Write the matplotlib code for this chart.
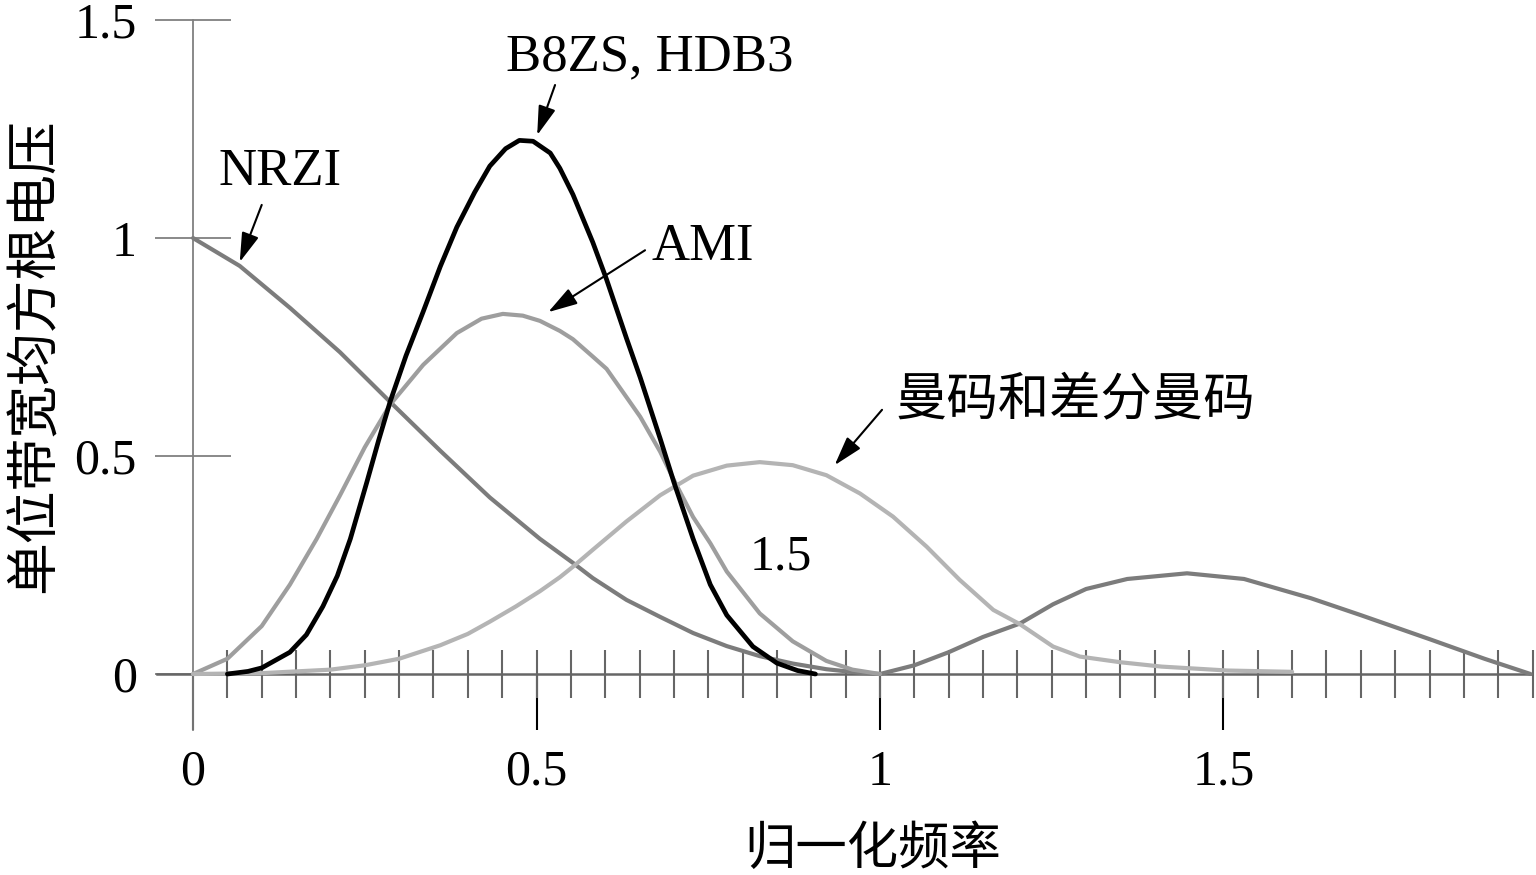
import matplotlib
matplotlib.use("Agg")
import matplotlib.pyplot as plt
from matplotlib.ticker import FixedLocator, NullFormatter

# ---- data ----
nrzi_x = [0, 0.068, 0.141, 0.214, 0.287, 0.36, 0.432, 0.505, 0.553, 0.582, 0.631, 0.68,
          0.728, 0.777, 0.825, 0.873, 0.922, 0.97, 1.0, 1.05, 1.1, 1.15, 1.204, 1.252,
          1.3, 1.36, 1.447, 1.53, 1.627, 1.7, 1.8, 1.88, 1.947]
nrzi_y = [1.0, 0.936, 0.84, 0.738, 0.624, 0.512, 0.405, 0.31, 0.255, 0.22, 0.17, 0.131,
          0.094, 0.064, 0.041, 0.024, 0.011, 0.003, 0.0, 0.02, 0.05, 0.085, 0.116, 0.16,
          0.195, 0.218, 0.231, 0.218, 0.174, 0.135, 0.08, 0.035, 0.0]

ami_x = [0, 0.05, 0.068, 0.1, 0.141, 0.18, 0.214, 0.25, 0.287, 0.335, 0.384, 0.42, 0.451,
         0.48, 0.505, 0.534, 0.553, 0.582, 0.602, 0.631, 0.651, 0.68, 0.70, 0.728, 0.753,
         0.777, 0.825, 0.873, 0.922, 0.96, 1.0]
ami_y = [0, 0.035, 0.062, 0.11, 0.205, 0.31, 0.41, 0.52, 0.618, 0.709, 0.782, 0.815, 0.826,
         0.822, 0.81, 0.787, 0.768, 0.728, 0.70, 0.635, 0.59, 0.51, 0.445, 0.36, 0.30,
         0.235, 0.139, 0.075, 0.03, 0.01, 0.0]

b8zs_x = [0.05, 0.08, 0.1, 0.141, 0.165, 0.189, 0.21, 0.229, 0.253, 0.27, 0.287, 0.31, 0.335,
          0.36, 0.384, 0.41, 0.432, 0.455, 0.475, 0.495, 0.52, 0.534, 0.553, 0.582, 0.602,
          0.631, 0.651, 0.68, 0.70, 0.728, 0.753, 0.777, 0.815, 0.85, 0.88, 0.906]
b8zs_y = [0.0, 0.006, 0.014, 0.05, 0.09, 0.155, 0.225, 0.31, 0.44, 0.535, 0.625, 0.73, 0.831,
          0.935, 1.025, 1.105, 1.165, 1.205, 1.224, 1.222, 1.195, 1.16, 1.10, 0.99, 0.905,
          0.77, 0.68, 0.54, 0.44, 0.31, 0.205, 0.135, 0.063, 0.025, 0.008, 0.0]

man_x = [0, 0.1, 0.2, 0.25, 0.3, 0.36, 0.4, 0.432, 0.47, 0.505, 0.534, 0.553, 0.582, 0.631,
         0.68, 0.728, 0.777, 0.825, 0.873, 0.922, 0.971, 1.019, 1.068, 1.116, 1.165, 1.204,
         1.252, 1.291, 1.35, 1.41, 1.506, 1.6]
man_y = [0, 0.002, 0.01, 0.02, 0.035, 0.066, 0.092, 0.12, 0.155, 0.19, 0.222, 0.246, 0.285, 0.35,
         0.41, 0.455, 0.478, 0.486, 0.479, 0.456, 0.414, 0.361, 0.292, 0.216, 0.147, 0.114,
         0.063, 0.04, 0.027, 0.017, 0.008, 0.005]

y_ticks = [0, 0.5, 1, 1.5]
y_ticklabels = ["0", "0.5", "1", "1.5"]
x_major = [0, 0.5, 1, 1.5]
x_ticklabels = ["0", "0.5", "1", "1.5"]
x_minor = [round(0.05 * i, 2) for i in range(1, 40)]

xlabel = "归一化频率"
ylabel = "单位带宽均方根电压"

# ---- figure ----
plt.rcParams['font.family'] = ['Liberation Serif', 'Noto Sans CJK SC', 'DejaVu Sans']
fig = plt.figure(figsize=(15.36, 8.75), dpi=100)
ax = fig.add_axes([0, 0, 1, 1])
ax.set_xlim(-0.281, 1.955)
ax.set_ylim(-0.461, 1.546)

ax.plot(nrzi_x, nrzi_y, color='#7c7c7c', lw=3.0, solid_capstyle='round',
        solid_joinstyle='round', zorder=3)
ax.plot(ami_x, ami_y, color='#9e9e9e', lw=3.0, solid_capstyle='round',
        solid_joinstyle='round', zorder=3)
ax.plot(man_x, man_y, color='#b4b4b4', lw=3.0, solid_capstyle='round',
        solid_joinstyle='round', zorder=3)
ax.plot(b8zs_x, b8zs_y, color='black', lw=3.4, solid_capstyle='round',
        solid_joinstyle='round', zorder=4)

# spines
for s in ['top', 'right']:
    ax.spines[s].set_visible(False)
ax.spines['left'].set_position(('data', 0))
ax.spines['bottom'].set_position(('data', 0))
ax.spines['left'].set_bounds(-0.128, 1.5)
ax.spines['bottom'].set_bounds(-0.053, 1.947)
ax.spines['left'].set_color('#808080')
ax.spines['bottom'].set_color('#666666')
ax.spines['left'].set_linewidth(1.3)
ax.spines['bottom'].set_linewidth(1.8)

# y ticks
ax.yaxis.set_major_locator(FixedLocator(y_ticks))
ax.set_yticklabels(y_ticklabels)
ax.tick_params(axis='y', which='major', direction='inout', length=55, width=1.3,
               color='#808080', pad=13, labelsize=36)

# x ticks
ax.xaxis.set_major_locator(FixedLocator(x_major))
ax.set_xticklabels(x_ticklabels)
ax.xaxis.set_minor_locator(FixedLocator(x_minor))
ax.xaxis.set_minor_formatter(NullFormatter())
ax.xaxis.remove_overlapping_locs = False
ax.tick_params(axis='x', which='minor', direction='inout', length=35, width=1.5, color='#666666')
ax.tick_params(axis='x', which='major', direction='out', length=40, width=1.5, color='black',
               pad=14, labelsize=36)

# axis labels
ax.set_xlabel(xlabel, fontsize=37, family=['Noto Sans CJK SC'])
ax.xaxis.set_label_coords(0.568, 0.029)
ax.xaxis.label.set_verticalalignment('center')
ax.set_ylabel(ylabel, fontsize=38, family=['Noto Sans CJK SC'])
ax.yaxis.set_label_coords(0.022, 0.594)
ax.yaxis.label.set_verticalalignment('center')

# annotations
arrow = dict(arrowstyle='-|>,head_length=0.6,head_width=0.18', color='black', lw=1.5,
             mutation_scale=30, shrinkA=0, shrinkB=0)
ax.text(0.127, 1.151, "NRZI", fontsize=38, ha='center', va='center')
ax.annotate('', xy=(0.068, 0.945), xytext=(0.100, 1.076), arrowprops=arrow)
ax.text(0.665, 1.415, "B8ZS, HDB3", fontsize=38, ha='center', va='center')
ax.annotate('', xy=(0.501, 1.236), xytext=(0.527, 1.351), arrowprops=arrow)
ax.text(0.742, 0.979, "AMI", fontsize=38, ha='center', va='center')
ax.annotate('', xy=(0.517, 0.830), xytext=(0.658, 0.972), arrowprops=arrow)
ax.text(1.284, 0.628, "曼码和差分曼码", fontsize=37, ha='center', va='center',
        family=['Noto Sans CJK SC'])
ax.annotate('', xy=(0.934, 0.479), xytext=(1.003, 0.606), arrowprops=arrow)
ax.text(0.856, 0.268, "1.5", fontsize=36, ha='center', va='center')

fig.savefig("out.png", dpi=100)
